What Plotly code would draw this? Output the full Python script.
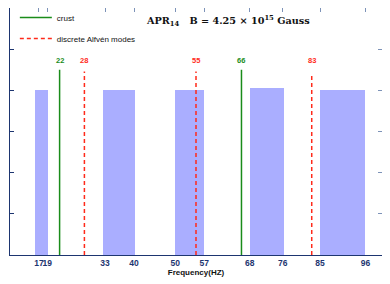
import plotly.graph_objects as go

# Data
band_start = [16.0, 32.5, 50.0, 68.0, 85.0]
band_end = [19.1, 40.2, 57.0, 76.2, 96.0]
band_height = [4.0, 4.0, 4.02, 4.06, 4.0]

crust_freq = [22, 66]
crust_top = [4.5, 4.5]
alfven_freq = [28, 55, 83]
alfven_top = [4.46, 4.46, 4.4]

xtick_vals = [17, 19, 33, 40, 50, 57, 68, 76, 85, 96]
xtick_text = [str(v) for v in xtick_vals]

X_RANGE = [10, 100]
Y_RANGE = [0, 6]

GREEN = "#1a8c1a"
RED = "#ff2a1a"
BAR = "#aaaeff"
NAVY = "#1d3570"
LIGHT = "#7d93b8"

fig = go.Figure()

centers = [(a + b) / 2 for a, b in zip(band_start, band_end)]
widths = [b - a for a, b in zip(band_start, band_end)]
fig.add_trace(go.Bar(x=centers, y=band_height, width=widths, base=0,
                     marker=dict(color=BAR, line=dict(width=0)),
                     showlegend=False, hoverinfo="skip"))

for i, (f, t) in enumerate(zip(crust_freq, crust_top)):
    fig.add_trace(go.Scatter(x=[f, f], y=[0, t], mode="lines",
                             line=dict(color=GREEN, width=1.5),
                             name="crust", legendgroup="crust",
                             showlegend=(i == 0)))
for i, (f, t) in enumerate(zip(alfven_freq, alfven_top)):
    fig.add_trace(go.Scatter(x=[f, f], y=[0, t], mode="lines",
                             line=dict(color=RED, width=1.5, dash="4px,3px"),
                             name="discrete Alfvén modes", legendgroup="alf",
                             showlegend=(i == 0)))

for f in crust_freq:
    fig.add_annotation(x=f, y=4.72, text="<b>%d</b>" % f, showarrow=False,
                       font=dict(color=GREEN, size=7.5, family="Liberation Sans"))
for f in alfven_freq:
    fig.add_annotation(x=f, y=4.72, text="<b>%d</b>" % f, showarrow=False,
                       font=dict(color=RED, size=7.5, family="Liberation Sans"))

# invisible trace for secondary axes
fig.add_trace(go.Scatter(x=[X_RANGE[0]], y=[Y_RANGE[0]], xaxis="x2", yaxis="y2",
                         mode="markers", marker=dict(opacity=0), showlegend=False,
                         hoverinfo="skip"))

fig.add_annotation(xref="paper", yref="paper", x=0.585, y=0.948,
                   text="<b>APR<sub>14</sub>   B = 4.25 × 10<sup>15</sup> Gauss</b>",
                   showarrow=False, xanchor="center", yanchor="middle",
                   font=dict(family="DejaVu Serif", size=9.7, color="#111111"))

fig.update_layout(
    width=382, height=276,
    margin=dict(l=2, r=8, t=0, b=29, autoexpand=False),
    plot_bgcolor="white", paper_bgcolor="white",
    bargap=0,
    showlegend=True,
    legend=dict(x=0.013, y=1.02, xanchor="left", yanchor="top",
                bgcolor="rgba(0,0,0,0)", font=dict(size=8, family="Liberation Sans", color="#111"),
                itemwidth=32, tracegroupgap=2),
    xaxis=dict(range=X_RANGE, tickvals=xtick_vals, ticktext=xtick_text, tickangle=0,
               automargin=False,
               showgrid=False, zeroline=False, showline=True, linecolor=NAVY, linewidth=1.2,
               ticks="", tickfont=dict(size=8.5, family="Liberation Sans", color=NAVY, weight="bold"),
               title=dict(text="<b>Frequency(HZ)</b>", font=dict(size=8, family="Liberation Sans", color="#111"),
                          standoff=2)),
    yaxis=dict(range=Y_RANGE, dtick=1, showticklabels=False, showgrid=False, zeroline=False,
               automargin=False,
               showline=True, linecolor=NAVY, linewidth=1.2, ticks="inside", ticklen=4,
               tickcolor=NAVY),
    xaxis2=dict(range=X_RANGE, overlaying="x", side="top", tickvals=xtick_vals,
                automargin=False,
                showticklabels=False, showgrid=False, zeroline=False, showline=True,
                linecolor=LIGHT, linewidth=1.2, ticks="inside", ticklen=4, tickcolor=LIGHT),
    yaxis2=dict(range=Y_RANGE, overlaying="y", side="right", dtick=1,
                automargin=False,
                showticklabels=False, showgrid=False, zeroline=False, showline=True,
                linecolor=LIGHT, linewidth=1.2, ticks="inside", ticklen=4, tickcolor=LIGHT),
)

fig.write_html("out.html")
